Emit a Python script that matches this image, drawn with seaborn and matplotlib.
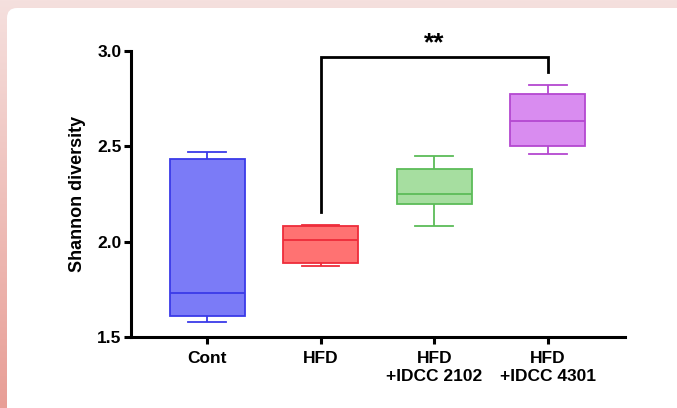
import numpy as np
import pandas as pd
import matplotlib
matplotlib.use("Agg")
import matplotlib.pyplot as plt
import seaborn as sns
from matplotlib.patches import FancyBboxPatch

# Group names and box summaries: min, Q1, median, Q3, max
groups = ["Cont", "HFD", "HFD\n+IDCC 2102", "HFD\n+IDCC 4301"]
cont_vals = [1.576, 1.612, 1.731, 2.432, 2.470]
hfd_vals = [1.871, 1.890, 2.007, 2.083, 2.085]
idcc2102_vals = [2.082, 2.195, 2.247, 2.380, 2.446]
idcc4301_vals = [2.460, 2.499, 2.631, 2.773, 2.820]

fill_colors = ["#7b7bf7", "#ff7272", "#a6dea0", "#d98cf0"]
edge_colors = ["#3a3ae8", "#ee2c3a", "#5cbc58", "#b448d0"]

df = pd.DataFrame({
    "group": np.repeat(groups, 5),
    "value": cont_vals + hfd_vals + idcc2102_vals + idcc4301_vals,
})

W, H = 677, 408
fig = plt.figure(figsize=(W / 100, H / 100), dpi=100)

# pink page background with a white rounded card
bg = fig.add_axes([0, 0, 1, 1])
bg.set_axis_off()
grad = np.linspace(0, 1, 256)[:, None]
top = np.array([245, 224, 222]) / 255
bot = np.array([232, 158, 150]) / 255
img = top[None, None, :] * (1 - grad[..., None]) + bot[None, None, :] * grad[..., None]
bg.imshow(img, extent=[0, W, H, 0], aspect="auto")
bg.set_xlim(0, W)
bg.set_ylim(H, 0)
bg.add_patch(FancyBboxPatch((7, 8), W + 40, H + 40,
                            boxstyle="round,pad=0,rounding_size=10",
                            facecolor="white", edgecolor="none"))

ax = fig.add_axes([131 / W, 1 - 337 / H, 494 / W, 286.3 / H])
ax.patch.set_alpha(0)

sns.boxplot(data=df, x="group", y="value", order=groups, ax=ax,
            whis=(0, 100), width=0.66, linewidth=1.3, fliersize=0)

for i, patch in enumerate(ax.patches):
    patch.set_facecolor(fill_colors[i])
    patch.set_edgecolor(edge_colors[i])
# lines per box: 2 whiskers, 2 caps, 1 median
lines = ax.lines
per = len(lines) // 4
for i in range(4):
    for ln in lines[i * per:(i + 1) * per]:
        ln.set_color(edge_colors[i])
        ln.set_linewidth(1.3)

ax.set_xlim(-0.67, 3.68)
ax.set_ylim(1.5, 3.0)
ax.set_yticks([1.5, 2.0, 2.5, 3.0])
ax.set_yticklabels(["1.5", "2.0", "2.5", "3.0"])

for s in ["top", "right"]:
    ax.spines[s].set_visible(False)
for s in ["left", "bottom"]:
    ax.spines[s].set_linewidth(2.2)
    ax.spines[s].set_color("black")

ax.tick_params(axis="both", width=2.2, length=5, direction="out", colors="black")
ax.tick_params(axis="y", pad=2)
ax.tick_params(axis="x", pad=5)
fam = ["Liberation Sans", "DejaVu Sans"]
for lab in ax.get_yticklabels():
    lab.set_fontfamily(fam)
    lab.set_fontweight("bold")
    lab.set_fontsize(12.5)
for lab in ax.get_xticklabels():
    lab.set_fontfamily(fam)
    lab.set_fontweight("bold")
    lab.set_fontsize(12.5)
    lab.set_linespacing(1.25)
ax.set_xlabel("")
ax.set_ylabel("Shannon diversity", fontsize=13, fontweight="bold",
              fontfamily=fam, labelpad=8)

# significance bracket between HFD and HFD+IDCC 4301
ax.plot([1, 1, 3, 3], [2.156, 2.969, 2.969, 2.89], color="black",
        linewidth=2, clip_on=False, solid_joinstyle="miter")
ax.text(2, 2.975, "**", ha="center", va="bottom", fontsize=19,
        fontweight="bold", fontfamily=fam, clip_on=False)

fig.savefig("out.png", dpi=100)
